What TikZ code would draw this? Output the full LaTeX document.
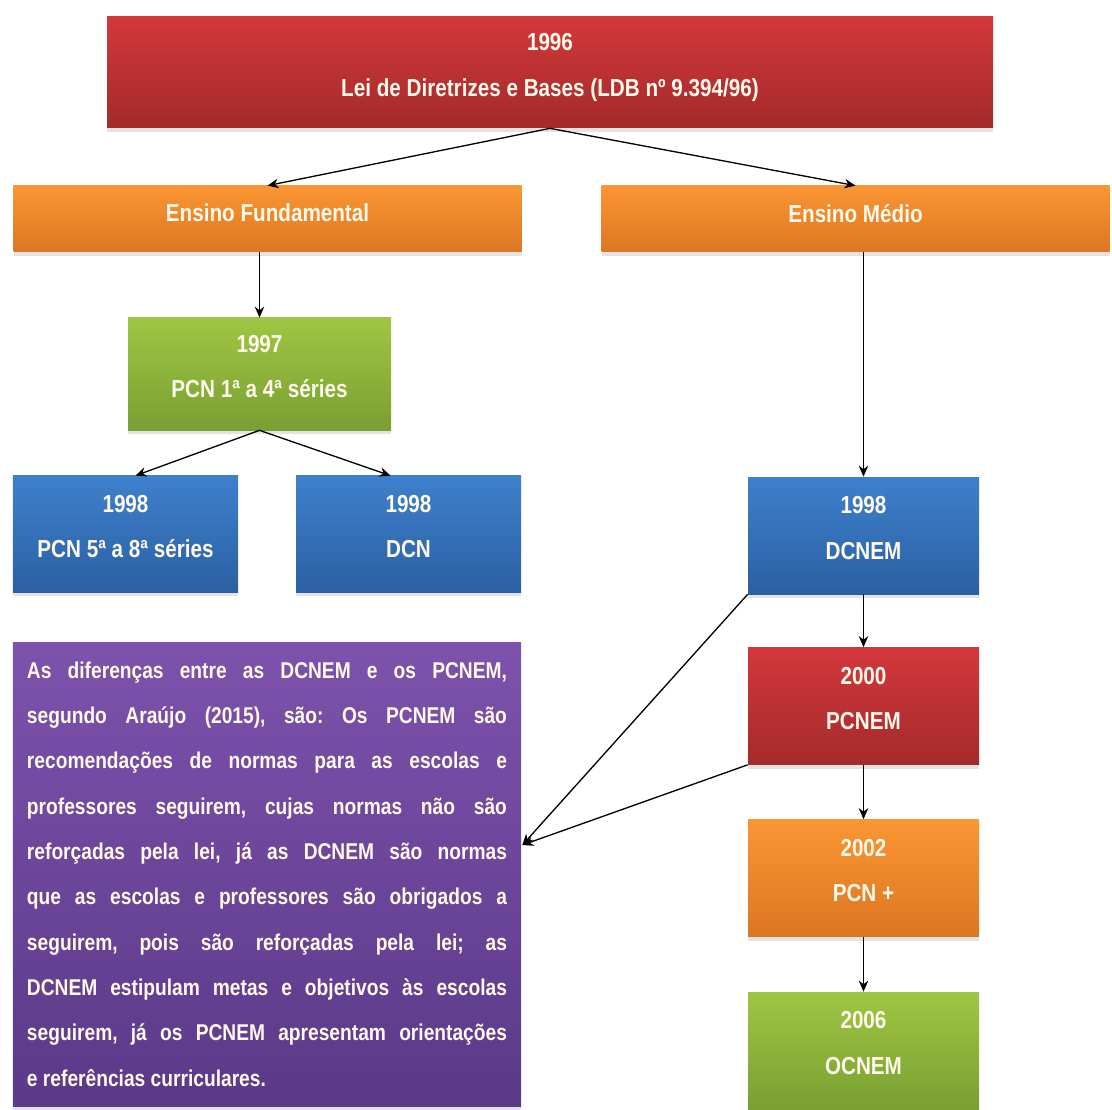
\documentclass[tikz,border=0pt]{standalone}
\usepackage{fontspec}
\setmainfont[FakeStretch=0.84]{Liberation Sans}
\usepackage{xcolor}
\usepackage{tikz}
\usetikzlibrary{arrows.meta,positioning,calc,shadows}
\definecolor{ldred}{HTML}{D3383B}
\definecolor{ldreddk}{HTML}{A42A2B}
\definecolor{ldorange}{HTML}{FA9634}
\definecolor{ldorangedk}{HTML}{DC7622}
\definecolor{ldgreen}{HTML}{9FC642}
\definecolor{ldgreendk}{HTML}{7A9F33}
\definecolor{ldblue}{HTML}{3E80CC}
\definecolor{ldbluedk}{HTML}{2B60A3}
\definecolor{ldpurple}{HTML}{7D52AC}
\definecolor{ldpurpledk}{HTML}{5B3988}
\definecolor{ldtext}{HTML}{FFF9EC}

\begin{document}
\begin{tikzpicture}[
  card/.style={rectangle,inner sep=0pt,align=center,text=ldtext,
               font=\fontsize{14}{25.8}\selectfont\bfseries,text depth=0.3cm,
               drop shadow={shadow xshift=0pt,shadow yshift=-2.5pt,opacity=0.22}},
  redcard/.style={card,top color=ldred,bottom color=ldreddk},
  orangecard/.style={card,top color=ldorange,bottom color=ldorangedk},
  greencard/.style={card,top color=ldgreen,bottom color=ldgreendk},
  bluecard/.style={card,top color=ldblue,bottom color=ldbluedk},
  purplecard/.style={card,top color=ldpurple,bottom color=ldpurpledk,text depth=,
                     font=\fontsize{13}{25.8}\selectfont\bfseries\frenchspacing},
  band/.style={minimum width=10.16cm,minimum height=1.32cm,text depth=0.24cm},
  tile/.style={minimum width=4.5cm,minimum height=2.32cm},
  link/.style={-{Stealth[length=2.2mm,width=1.9mm]},line width=0.75pt,color=black}
]
\useasboundingbox[fill=white] (0,0) rectangle (22.24,-22.2);
\node[redcard,minimum width=17.72cm,minimum height=2.22cm] (ldb) at (11.0,-1.45)
  {1996\\Lei de Diretrizes e Bases (LDB nº 9.394/96)};
\node[orangecard,band] (fund) at (5.35,-4.38) {Ensino Fundamental};
\node[orangecard,band] (medio) at (17.11,-4.38) {Ensino Médio};
\node[greencard,minimum width=5.26cm,minimum height=2.24cm] (pcn14) at (5.19,-7.48)
  {1997\\PCN 1ª a 4ª séries};
\node[bluecard,tile] (pcn58) at (2.51,-10.68) {1998\\PCN 5ª a 8ª séries};
\node[bluecard,tile] (dcn) at (8.17,-10.68) {1998\\DCN};
\foreach \k/\y/\s/\yr/\t in {
  dcnem/-10.71/bluecard/1998/DCNEM,pcnem/-14.12/redcard/2000/PCNEM,
  plus/-17.56/orangecard/2002/PCN +,ocnem/-21.01/greencard/2006/OCNEM
} {
  \node[\s,minimum width=4.62cm,minimum height=2.34cm] (\k) at (17.27,\y) {\yr\\\t};
}
\node[purplecard,minimum width=10.16cm,minimum height=9.28cm,text width=9.6cm,
      align=justify] (note) at (5.34,-17.48)
  {As diferenças entre as DCNEM e os PCNEM,\linebreak
   segundo Araújo (2015), são: Os PCNEM são\linebreak
   recomendações de normas para as escolas e\linebreak
   professores seguirem, cujas normas não são\linebreak
   reforçadas pela lei, já as DCNEM são normas\linebreak
   que as escolas e professores são obrigados a\linebreak
   seguirem, pois são reforçadas pela lei; as\linebreak
   DCNEM estipulam metas e objetivos às escolas\linebreak
   seguirem, já os PCNEM apresentam orientações\linebreak
   e referências curriculares.};
\coordinate (hit) at ($(note.east)+(0.02,0.58)$);
\draw[link] (ldb.south) -- (fund.north);
\draw[link] (ldb.south) -- (medio.north);
\draw[link] (pcn14.north |- fund.south) -- (pcn14.north);
\draw[link] (pcn14.south) -- ($(pcn58.north)+(0.2,0)$);
\draw[link] (pcn14.south) -- ($(dcn.north)+(-0.36,0)$);
\draw[link] (dcnem.north |- medio.south) -- (dcnem.north);
\foreach \a/\b in {dcnem/pcnem,pcnem/plus,plus/ocnem}
  \draw[link] (\a) -- (\b);
\draw[link] (dcnem.south west) -- (hit);
\draw[link] (pcnem.south west) -- (hit);
\end{tikzpicture}
\end{document}
